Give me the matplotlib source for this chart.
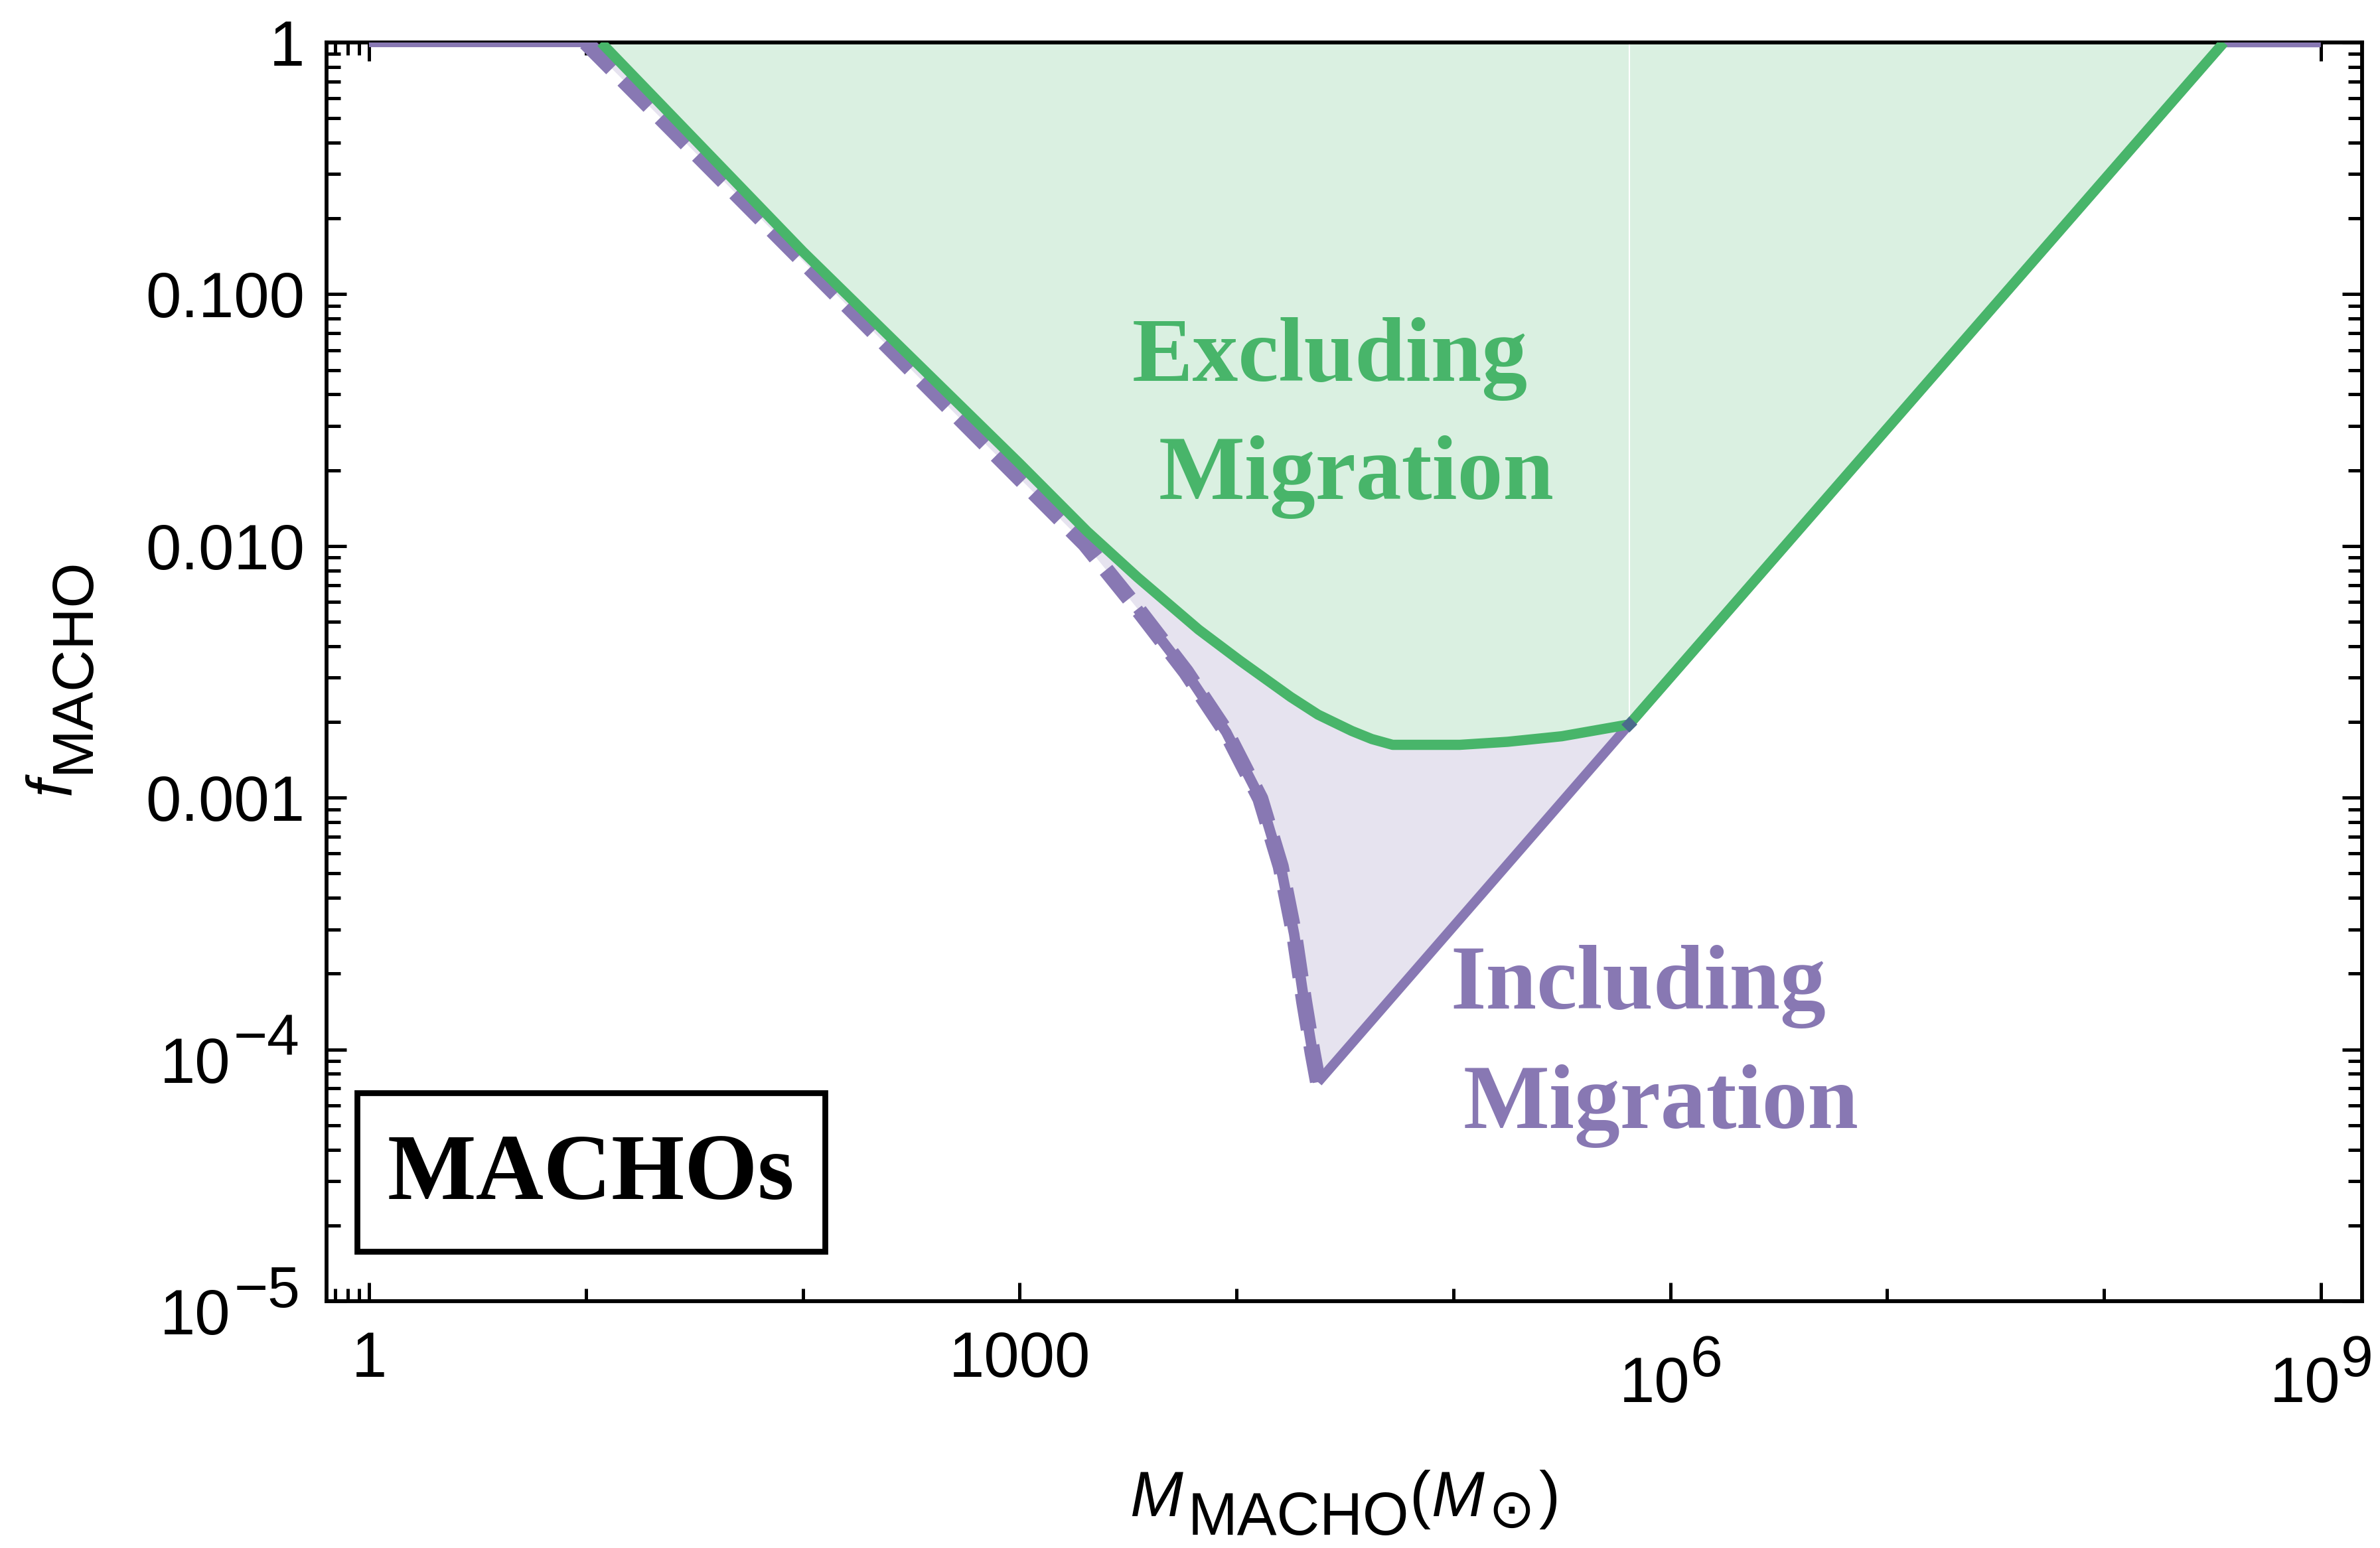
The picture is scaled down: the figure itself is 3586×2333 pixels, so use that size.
import numpy as np
import matplotlib.pyplot as plt
from matplotlib.patches import Rectangle
from matplotlib.ticker import NullFormatter

plt.rcParams['font.family'] = ['Liberation Sans', 'DejaVu Sans']

# bounds on f_MACHO vs MACHO mass, stored as log10 values
excl_logm = [1.07, 2.0, 3.0, 3.311, 3.544, 3.825, 4.015, 4.25, 4.376, 4.532,
             4.624, 4.72, 5.03, 5.25, 5.5, 5.811, 8.553]
excl_logf = [0.0, -0.83, -1.673, -1.942, -2.125, -2.332, -2.455, -2.6, -2.67, -2.735,
             -2.767, -2.79, -2.79, -2.778, -2.756, -2.709, 0.0]

incl_left_logm = [0.0, 1.0, 2.084, 3.302, 3.544, 3.767, 3.953, 4.11, 4.204, 4.266,
                  4.312, 4.351, 4.376]
incl_left_logf = [0.0, 0.0, -0.94, -1.992, -2.25, -2.5, -2.74, -3.004, -3.273, -3.542,
                  -3.81, -4.013, -4.13]
incl_right_logm = [4.376, 5.811, 8.553, 9.0]
incl_right_logf = [-4.13, -2.709, 0.0, 0.0]

green = '#48B56A'
green_fill = '#DAF0E1'
purple = '#8878B3'
purple_fill = '#E6E3EF'

W, H = 3586, 2333
fig = plt.figure(figsize=(W / 300, H / 300), dpi=300)
ax = fig.add_axes([492 / W, 1 - 1961 / H, (3559 - 492) / W, (1961 - 64) / H])
ax.set_xscale('log')
ax.set_yscale('log')
ax.set_xlim(0.637, 1.55e9)
ax.set_ylim(1e-5, 1)

m_ex = 10 ** np.array(excl_logm)
f_ex = 10 ** np.array(excl_logf)
m_l = 10 ** np.array(incl_left_logm)
f_l = 10 ** np.array(incl_left_logf)
m_r = 10 ** np.array(incl_right_logm)
f_r = 10 ** np.array(incl_right_logf)

# shaded excluded regions
m_in = np.concatenate([m_l, m_r[1:]])
f_in = np.concatenate([f_l, f_r[1:]])
ax.fill_between(m_in, f_in, 1, color=purple_fill, lw=0, zorder=1)
ax.fill_between(m_ex, f_ex, 1, color=green_fill, lw=0, zorder=2)
# thin seam where the two bounds meet
jx, jy = m_r[1], f_r[1]
ax.plot([jx, jx], [jy, 1], color='white', lw=0.5, zorder=2.5)

# including migration
ax.plot(m_l[:2], f_l[:2], color=purple, lw=3.4, solid_capstyle='butt', zorder=3)
ax.plot(m_l[1:], f_l[1:], color=purple, lw=5.8, ls=(0, (2.3, 1.0)), zorder=3)
ax.plot(m_l[4:], f_l[4:], color=purple, lw=3.8, solid_capstyle='butt', zorder=3)
ax.plot(m_r, f_r, color=purple, lw=3.5, solid_capstyle='butt', zorder=3)
# excluding migration
ax.plot(m_ex, f_ex, color=green, lw=3.7, solid_capstyle='butt', zorder=4)
ax.plot([jx], [jy], marker='D', ms=3, color='#4B6B8C', zorder=5)

serif = 'Liberation Serif'
ax.text(10 ** 4.432, 10 ** -1.344, 'Excluding', ha='center', va='baseline',
        fontsize=33, fontweight='bold', family=serif, color=green, zorder=6)
ax.text(10 ** 4.553, 10 ** -1.813, 'Migration', ha='center', va='baseline',
        fontsize=33, fontweight='bold', family=serif, color=green, zorder=6)
ax.text(10 ** 5.851, 10 ** -3.837, 'Including', ha='center', va='baseline',
        fontsize=33, fontweight='bold', family=serif, color=purple, zorder=6)
ax.text(10 ** 5.958, 10 ** -4.311, 'Migration', ha='center', va='baseline',
        fontsize=33, fontweight='bold', family=serif, color=purple, zorder=6)

ax.add_patch(Rectangle((0.015, 0.0395), 0.23, 0.126, transform=ax.transAxes,
                       fc='white', ec='black', lw=2.1, zorder=7))
ax.text(0.13, 0.0812, 'MACHOs', transform=ax.transAxes, ha='center', va='baseline',
        fontsize=34, fontweight='bold', family=serif, zorder=8)

# ticks
ax.set_xticks([1, 1e3, 1e6, 1e9])
ax.set_xticklabels(['1', '1000', '', ''])
ax.set_xticks([0.7, 0.8, 0.9, 10, 100, 1e4, 1e5, 1e7, 1e8], minor=True)
ax.xaxis.set_minor_formatter(NullFormatter())
ax.set_yticks([1e-5, 1e-4, 1e-3, 1e-2, 1e-1, 1])
ax.set_yticklabels(['', '', '0.001', '0.010', '0.100', '1'])
ax.set_yticks([k * 10.0 ** d for d in range(-5, 0) for k in range(2, 10)], minor=True)
ax.yaxis.set_minor_formatter(NullFormatter())
ax.tick_params(which='both', direction='in', top=True, right=True, width=1.2,
               labelsize=23, colors='black')
ax.tick_params(axis='x', which='major', length=6.8, pad=10.5)
ax.tick_params(axis='x', which='minor', length=4.6)
ax.tick_params(axis='y', which='major', length=7.2, pad=7.9)
ax.tick_params(axis='y', which='minor', length=5.0)
for s in ax.spines.values():
    s.set_linewidth(1.4)

for v, e in [(1e6, '6'), (1e9, '9')]:
    ax.annotate('10', xy=(v, 0), xycoords=('data', 'axes fraction'), xytext=(7.2, -36.5),
                textcoords='offset points', ha='right', va='baseline', fontsize=23,
                annotation_clip=False)
    ax.annotate(e, xy=(v, 0), xycoords=('data', 'axes fraction'), xytext=(7.2, -27.1),
                textcoords='offset points', ha='left', va='baseline', fontsize=21,
                annotation_clip=False)
for v, e in [(1e-4, '\u22124'), (1e-5, '\u22125')]:
    ax.annotate('10', xy=(0, v), xycoords=('axes fraction', 'data'), xytext=(-34.6, -12.0),
                textcoords='offset points', ha='right', va='baseline', fontsize=23,
                annotation_clip=False)
    ax.annotate(e, xy=(0, v), xycoords=('axes fraction', 'data'), xytext=(-9.6, -2.2),
                textcoords='offset points', ha='right', va='baseline', fontsize=21,
                annotation_clip=False)

# axis labels, pieced together so subscripts stay large
def fx(px):
    return px / W


def fy(py):
    return 1 - py / H


fig.text(fx(1702), fy(2285), 'M', style='italic', fontsize=23, ha='left', va='baseline')
fig.text(fx(1790), fy(2313), 'MACHO', fontsize=21.5, ha='left', va='baseline')
fig.text(fx(2124), fy(2285), '(', fontsize=23, ha='left', va='baseline')
fig.text(fx(2156), fy(2285), 'M', style='italic', fontsize=23, ha='left', va='baseline')
fig.text(fx(2242), fy(2302), '\u2299', fontsize=20, family='DejaVu Sans', ha='left', va='baseline')
fig.text(fx(2318), fy(2285), ')', fontsize=23, ha='left', va='baseline')

fig.text(fx(105), fy(1198), 'f', style='italic', fontsize=23, rotation=90,
         rotation_mode='anchor', ha='left', va='baseline')
fig.text(fx(134), fy(1165), 'MACHO', fontsize=21, rotation=90,
         rotation_mode='anchor', ha='left', va='baseline')

fig.savefig('out.png', dpi=300)
